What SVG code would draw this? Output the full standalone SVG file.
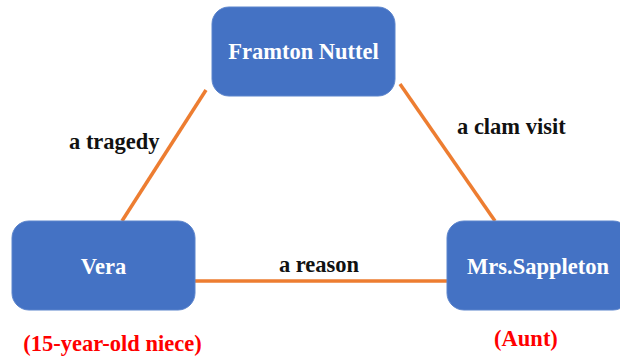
<svg xmlns="http://www.w3.org/2000/svg" width="620" height="358" viewBox="0 0 620 358">
<style>
.box{fill:#4472C4;stroke:#5B84CC;stroke-width:1}
text{font-family:"Liberation Serif","Times New Roman",Times,"DejaVu Serif",serif;font-weight:bold;font-size:22.5px}
.nt{fill:#fff;text-anchor:middle}
.lb{fill:#111}
.rd{fill:#FF0000;text-anchor:middle}
.cn{stroke:#ED7D31;stroke-width:3.5;fill:none}
</style>
<rect width="620" height="358" fill="#fff"/>
<g id="connectors">
<line class="cn" x1="206" y1="90" x2="122" y2="221"/>
<line class="cn" x1="400" y1="84" x2="495" y2="221"/>
<line class="cn" x1="195" y1="281" x2="447" y2="281"/>
</g>
<g id="framton">
<rect class="box" x="212" y="7" width="183" height="89" rx="17"/>
<text class="nt" x="303.5" y="59">Framton Nuttel</text>
</g>
<g id="vera">
<rect class="box" x="12" y="221" width="183" height="89" rx="17"/>
<text class="nt" x="103.5" y="274">Vera</text>
</g>
<g id="sappleton">
<rect class="box" x="447" y="221" width="183" height="89" rx="17"/>
<text class="nt" x="538" y="274">Mrs.Sappleton</text>
</g>
<g id="labels">
<text class="lb" x="69" y="149">a tragedy</text>
<text class="lb" x="457" y="134">a clam visit</text>
<text class="lb" x="319" y="272" text-anchor="middle">a reason</text>
<text class="rd" x="112.5" y="351">(15-year-old niece)</text>
<text class="rd" x="526" y="346">(Aunt)</text>
</g>
</svg>
